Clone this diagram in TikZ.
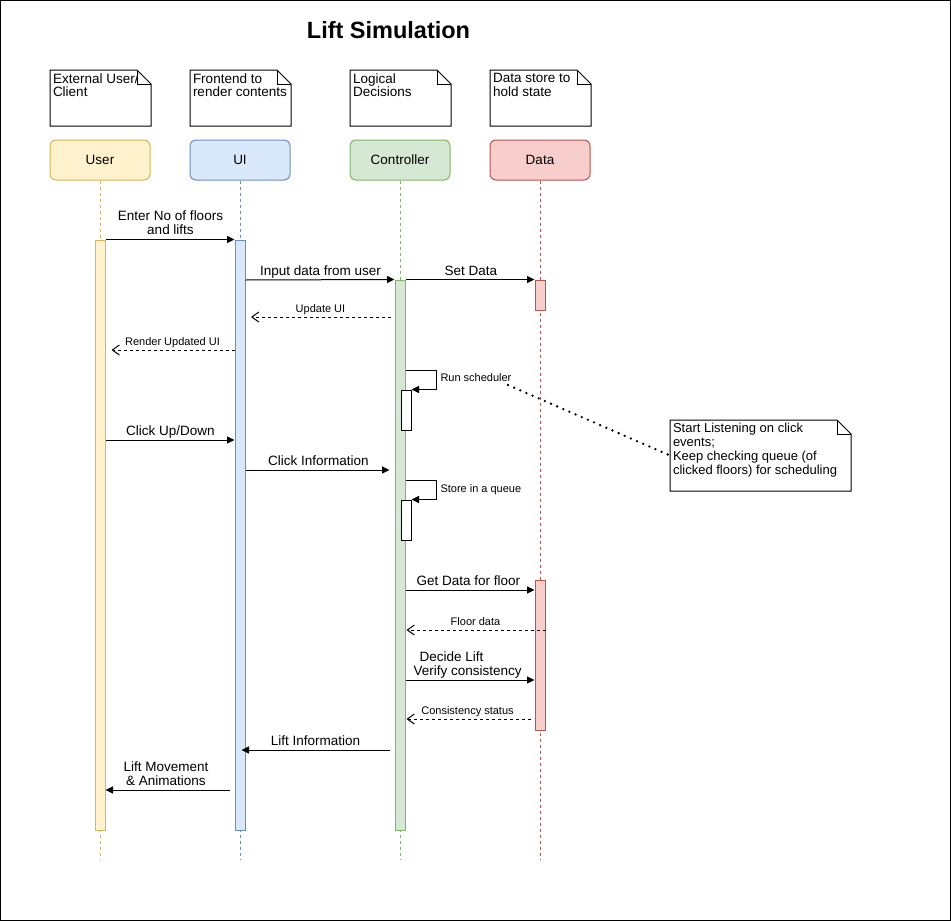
\documentclass[tikz,border=0pt]{standalone}
\usepackage{fontspec}
\setmainfont{Liberation Sans}
\usetikzlibrary{arrows.meta,calc}
\definecolor{ufill}{HTML}{FFF2CC}
\definecolor{uline}{HTML}{D6B656}
\definecolor{ifill}{HTML}{DAE8FC}
\definecolor{iline}{HTML}{6C8EBF}
\definecolor{cfill}{HTML}{D5E8D4}
\definecolor{cline}{HTML}{82B366}
\definecolor{dfill}{HTML}{F8CECC}
\definecolor{dline}{HTML}{B85450}
\tikzset{
  lbl/.style={font=\fontsize{13.5}{14}\selectfont, inner sep=0pt, align=center},
  slbl/.style={font=\fontsize{11}{12}\selectfont, inner sep=0pt},
  hdr/.style={draw, rounded corners=6pt, minimum width=100pt, minimum height=40pt, inner sep=0pt, font=\fontsize{13.5}{14}\selectfont},
  act/.style={draw, minimum width=10pt, inner sep=0pt},
  life/.style={dash pattern=on 3pt off 3pt},
  msg/.style={-{Triangle[length=7.5pt,width=7pt]}},
  ret/.style={dash pattern=on 3pt off 3pt, -{Straight Barb[length=7pt,width=10pt]}},
  notebody/.style={inner sep=0pt, fill=white},
  notetext/.style={inner sep=0pt, align=left, font=\fontsize{13.5}{13.5}\selectfont},
  dotline/.style={line width=2.6pt, dash pattern=on 0pt off 6.7pt, line cap=round},
}
% #1 name, #2 x, #3 y (top-left), #4 w, #5 h, #6 text options, #7 text
\newcommand{\lsnote}[7]{%
  \node[notebody, minimum width=#4pt, minimum height=#5pt, anchor=north west] (#1) at (#2,#3) {};
  \draw (#1.north west) -- ($(#1.north east)+(-14,0)$) -- ($(#1.north east)+(0,14)$) -- (#1.south east) -- (#1.south west) -- cycle;
  \draw ($(#1.north east)+(-14,0)$) -- ($(#1.north east)+(-14,14)$) -- ($(#1.north east)+(0,14)$);
  \node[notetext, anchor=north west, #6] (#1t) at ($(#1.north west)+(2.5,3)$) {#7};
}
\begin{document}
\begin{tikzpicture}[x=1pt,y=-1pt,line width=1pt]
\useasboundingbox (0,0) rectangle (951,921);
\draw[line width=2pt] (0,0) rectangle (951,921);

\node[font=\bfseries\fontsize{23.5}{26}\selectfont, inner sep=0pt] (title) at (388.5,30) {Lift Simulation};

% notes
\lsnote{n1}{50}{70}{100}{55}{}{External User/\\Client}
\lsnote{n2}{190}{70}{100}{55}{}{Frontend to\\render contents}
\lsnote{n3}{350}{70}{100}{55}{}{Logical\\Decisions}
\lsnote{n4}{490}{70}{100}{55}{}{Data store to\\hold state}

% headers
\node[hdr, fill=ufill, draw=uline] (user) at (100,160) {User};
\node[hdr, fill=ifill, draw=iline] (ui) at (240,160) {UI};
\node[hdr, fill=cfill, draw=cline] (ctrl) at (400,160) {Controller};
\node[hdr, fill=dfill, draw=dline] (data) at (540,160) {Data};

% lifelines
\coordinate (userend) at (100,860);
\coordinate (uiend) at (240,860);
\coordinate (ctrlend) at (400,860);
\coordinate (dataend) at (540,860);
\draw[life, draw=uline] (user.south) -- (userend);
\draw[life, draw=iline] (ui.south) -- (uiend);
\draw[life, draw=cline] (ctrl.south) -- (ctrlend);
\draw[life, draw=dline] (data.south) -- (dataend);

% activations
\node[act, fill=ufill, draw=uline, minimum height=590pt] (uact) at (100,535) {};
\node[act, fill=ifill, draw=iline, minimum height=590pt] (uiact) at (240,535) {};
\node[act, fill=cfill, draw=cline, minimum height=550pt] (cact) at (400,555) {};
\node[act, fill=dfill, draw=dline, minimum height=30pt] (dact1) at (540,295) {};
\node[act, fill=dfill, draw=dline, minimum height=150pt] (dact2) at (540,655) {};
\node[act, fill=white, draw=black, minimum height=40pt] (sb1) at (406,410) {};
\node[act, fill=white, draw=black, minimum height=40pt] (sb2) at (406,520) {};

% messages
\draw[msg] (uact.north east) -- (uiact.north west);
\node[lbl] (m1) at (170.5,222.5) {Enter No of floors\\and lifts};

\draw[msg] (uiact.east |- 0,280) -- (cact.north west);
\node[lbl, anchor=base] (m2) at (320.5,275.5) {Input data from user};

\draw[msg] (cact.north east) -- (dact1.north west);
\node[lbl, anchor=base] (m3) at (471,275.5) {Set Data};

\draw[ret] ($(cact.west |- 0,317)+(-4,0)$) -- ($(uiact.east |- 0,317)+(5.5,0)$);
\node[slbl, anchor=base] (m4) at (320.5,312) {Update UI};

\draw[ret] (uiact.west |- 0,350) -- ($(uact.east |- 0,350)+(6,0)$);
\node[slbl, anchor=base] (m5) at (172.5,345) {Render Updated UI};

\draw[msg] (cact.east |- 0,370) -| ($(sb1.north east)+(25,0)$) -- (sb1.north east);
\node[slbl, anchor=base west] (m6) at (440,381.6) {Run scheduler};

\draw[msg] (uact.east |- 0,440) -- (uiact.west |- 0,440);
\node[lbl, anchor=base] (m7) at (170.3,435.5) {Click Up/Down};

\draw[msg] (uiact.east |- 0,470) -- ($(cact.west |- 0,470)+(-5,0)$);
\node[lbl, anchor=base] (m8) at (318.5,465.5) {Click Information};

\draw[msg] (cact.east |- 0,480) -| ($(sb2.north east)+(25,0)$) -- (sb2.north east);
\node[slbl, anchor=base west] (m9) at (440,492.2) {Store in a queue};

\draw[msg] (cact.east |- 0,590) -- (dact2.west |- 0,590);
\node[lbl, anchor=base] (m10) at (468.3,585.5) {Get Data for floor};

\draw[ret] (dact2.east |- 0,630) -- ($(cact.east |- 0,630)+(1,0)$);
\node[slbl, anchor=base] (m11) at (475.5,625) {Floor data};

\draw[msg] (cact.east |- 0,680) -- (dact2.west |- 0,680);
\node[lbl, align=left, anchor=west] (m12) at (413,664.9) {\hspace*{6pt}Decide Lift\\Verify consistency};

\draw[ret] ($(dact2.west |- 0,719)+(-3.5,0)$) -- ($(cact.east |- 0,719)+(1,0)$);
\node[slbl, anchor=base] (m13) at (467.5,714) {Consistency status};

\draw[msg] ($(cact.west |- 0,750)+(-4.5,0)$) -- ($(uiact.east |- 0,750)+(-4,0)$);
\node[lbl, anchor=base] (m14) at (315.5,745) {Lift Information};

\draw[msg] ($(uiact.west |- 0,790)+(-5,0)$) -- (uact.east |- 0,790);
\node[lbl] (m15) at (166,773.3) {Lift Movement\\\& Animations};

% right note
\lsnote{rnote}{670}{420}{180}{70}{font=\fontsize{13}{13.8}\selectfont}{Start Listening on click\\events;\\Keep checking queue (of\\clicked floors) for scheduling}
\coordinate (dotstart) at (508,385);
\draw[dotline] (dotstart) -- (rnote.west);
\end{tikzpicture}
\end{document}
